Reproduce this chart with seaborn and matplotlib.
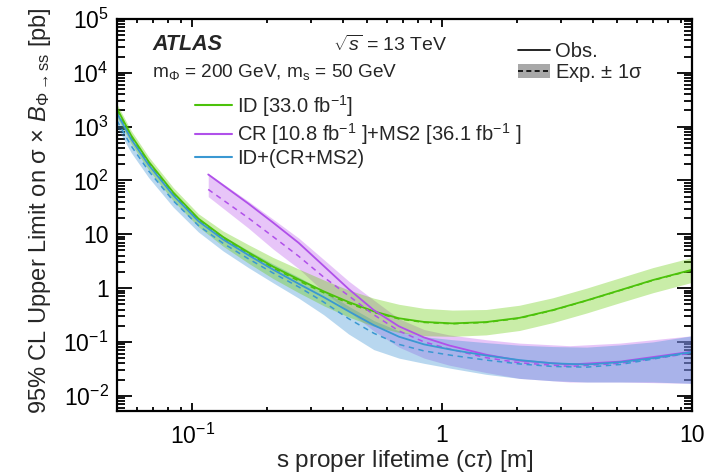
import numpy as np
import pandas as pd
import matplotlib
matplotlib.use("Agg")
import matplotlib.pyplot as plt
import seaborn as sns
from matplotlib.ticker import LogLocator, FuncFormatter, NullFormatter
from matplotlib.lines import Line2D
from matplotlib.patches import Patch

# ID search
ct_id = [0.05, 0.057, 0.067, 0.084, 0.106, 0.133, 0.168, 0.211, 0.267, 0.336, 0.423,
         0.533, 0.672, 0.847, 1.1, 1.5, 2.04, 2.77, 3.79, 5.14, 6.97, 10]
obs_id = [2190, 690, 224, 60, 19.5, 8.9, 4.6, 2.5, 1.45, 0.87, 0.55,
          0.37, 0.275, 0.235, 0.221, 0.234, 0.28, 0.39, 0.59, 0.91, 1.41, 2.19]
exp_id = [2000, 640, 208, 56, 18.2, 8.3, 4.3, 2.35, 1.36, 0.82, 0.52,
          0.355, 0.268, 0.23, 0.217, 0.23, 0.275, 0.385, 0.585, 0.9, 1.39, 2.15]
hi_id = [2640, 845, 275, 74, 24.0, 11.5, 6.4, 3.7, 2.26, 1.42, 0.92,
         0.65, 0.50, 0.42, 0.39, 0.40, 0.48, 0.66, 1.0, 1.55, 2.4, 3.7]
lo_id = [1515, 485, 158, 42, 13.8, 6.0, 2.9, 1.5, 0.82, 0.47, 0.29,
         0.195, 0.15, 0.13, 0.127, 0.135, 0.163, 0.228, 0.345, 0.535, 0.82, 1.28]

# CR + MS2 search
ct_cr = [0.116, 0.168, 0.211, 0.267, 0.336, 0.423, 0.533, 0.672, 0.847, 1.067,
         1.5, 2.04, 3.24, 5.14, 10]
obs_cr = [129, 37, 16.4, 6.9, 2.58, 0.96, 0.39, 0.195, 0.121, 0.086,
          0.058, 0.045, 0.038, 0.043, 0.066]
exp_cr = [68, 20, 9.0, 3.9, 1.6, 0.72, 0.32, 0.16, 0.10, 0.074,
          0.051, 0.041, 0.035, 0.040, 0.062]
hi_cr = [135, 41, 19, 8.5, 3.4, 1.35, 0.6, 0.27, 0.17, 0.135,
         0.11, 0.095, 0.085, 0.095, 0.13]
lo_cr = [50, 13, 5.3, 2.3, 0.85, 0.37, 0.16, 0.08, 0.05, 0.037,
         0.027, 0.021, 0.018, 0.018, 0.017]

# ID + (CR + MS2) combination
obs_comb = [1800, 590, 195, 53, 17.5, 8.0, 4.1, 2.2, 1.2, 0.68, 0.37,
            0.205, 0.125, 0.09, 0.071, 0.056, 0.046, 0.040, 0.038, 0.042, 0.050, 0.065]
exp_comb = [1300, 440, 150, 42, 14.5, 6.8, 3.5, 1.9, 1.05, 0.55, 0.27,
            0.145, 0.09, 0.068, 0.056, 0.046, 0.039, 0.035, 0.034, 0.038, 0.048, 0.064]
hi_comb = [1720, 580, 200, 56, 19.5, 9.3, 5.0, 2.8, 1.6, 0.9, 0.46,
           0.25, 0.16, 0.125, 0.11, 0.097, 0.087, 0.082, 0.08, 0.088, 0.1, 0.13]
lo_comb = [980, 330, 113, 32, 11, 4.9, 2.4, 1.25, 0.65, 0.32, 0.14,
           0.072, 0.05, 0.04, 0.032, 0.025, 0.021, 0.019, 0.018, 0.018, 0.018, 0.017]

green, green_band = "#4cc20a", "#65cc06"
purple, purple_band = "#b050ea", "#c570ee"
blue, blue_band = "#3a98d2", "#3f95d4"

sns.set_theme(style="ticks")
plt.rcParams["font.family"] = ["Liberation Sans", "DejaVu Sans"]
plt.rcParams["mathtext.fontset"] = "custom"
plt.rcParams["mathtext.rm"] = "Liberation Sans"
plt.rcParams["mathtext.it"] = "Liberation Sans:italic"
plt.rcParams["mathtext.bf"] = "Liberation Sans:bold"

df_id = pd.DataFrame({"ct": ct_id, "obs": obs_id, "exp": exp_id})
df_cr = pd.DataFrame({"ct": ct_cr, "obs": obs_cr, "exp": exp_cr})
df_comb = pd.DataFrame({"ct": ct_id, "obs": obs_comb, "exp": exp_comb})

fig = plt.figure(figsize=(7.04, 4.73), dpi=100)
ax = fig.add_axes([0.166, 0.131, 0.817, 0.829])

# +-1 sigma bands
ax.fill_between(ct_cr, lo_cr, hi_cr, color=purple_band, alpha=0.4, lw=0)
ax.fill_between(ct_id, lo_comb, hi_comb, color=blue_band, alpha=0.37, lw=0)
ax.fill_between(ct_id, lo_id, hi_id, color=green_band, alpha=0.35, lw=0)

for d, c in [(df_id, green), (df_cr, purple), (df_comb, blue)]:
    sns.lineplot(data=d, x="ct", y="exp", ax=ax, color=c, lw=1.1, linestyle=(0, (3.5, 3)))
    sns.lineplot(data=d, x="ct", y="obs", ax=ax, color=c, lw=1.3)

ax.set_xscale("log")
ax.set_yscale("log")
ax.set_xlim(0.05, 10)
ax.set_ylim(5.2e-3, 1e5)


def log_fmt(v, pos):
    e = int(round(np.log10(v)))
    if e == 0:
        return "1"
    if e == 1:
        return "10"
    return r"$10^{%d}$" % e


ax.xaxis.set_major_locator(LogLocator(base=10, numticks=10))
ax.yaxis.set_major_locator(LogLocator(base=10, numticks=20))
ax.xaxis.set_minor_locator(LogLocator(base=10, subs=np.arange(2, 10), numticks=20))
ax.yaxis.set_minor_locator(LogLocator(base=10, subs=np.arange(2, 10), numticks=20))
ax.xaxis.set_major_formatter(FuncFormatter(log_fmt))
ax.yaxis.set_major_formatter(FuncFormatter(log_fmt))
ax.xaxis.set_minor_formatter(NullFormatter())
ax.yaxis.set_minor_formatter(NullFormatter())

ax.tick_params(which="both", direction="in", top=True, right=True, width=1.3, colors="black",
               labelsize=16.5)
ax.tick_params(axis="x", which="major", length=6, pad=9)
ax.tick_params(axis="x", which="minor", length=3)
ax.tick_params(axis="y", which="major", length=11, pad=6)
ax.tick_params(axis="y", which="minor", length=6)
for s in ax.spines.values():
    s.set_linewidth(1.6)
    s.set_color("black")

ax.set_xlabel(r"s proper lifetime (c$\tau$) [m]", fontsize=17.5)
ax.set_ylabel(r"95% CL Upper Limit on σ × $\mathit{B}_{\Phi\rightarrow\mathrm{ss}}$ [pb]",
              fontsize=17)
ax.xaxis.set_label_coords(0.5, -0.128)
ax.yaxis.set_label_coords(-0.134, 0.51)
ax.xaxis.label.set_va("center")
ax.yaxis.label.set_va("center")

ax.text(0.061, 0.934, "ATLAS", transform=ax.transAxes, fontsize=15.5, fontweight="bold",
        fontstyle="italic", va="center")
ax.text(0.376, 0.934, r"$\sqrt{s}$ = 13 TeV", transform=ax.transAxes, fontsize=14, va="center")
ax.text(0.061, 0.865, r"m$_{\Phi}$ = 200 GeV, m$_{\rm s}$ = 50 GeV", transform=ax.transAxes,
        fontsize=13.7, va="center")

h1 = [Line2D([], [], color=green, lw=1.5), Line2D([], [], color=purple, lw=1.5),
      Line2D([], [], color=blue, lw=1.5)]
l1 = [r"ID [33.0 fb$^{-1}$]", r"CR [10.8 fb$^{-1}$ ]+MS2 [36.1 fb$^{-1}$ ]", "ID+(CR+MS2)"]
leg1 = ax.legend(h1, l1, loc="upper left", bbox_to_anchor=(0.135, 0.812), frameon=False,
                 fontsize=14.5, handlelength=1.85, handletextpad=0.25, labelspacing=0.12,
                 borderpad=0, borderaxespad=0)
ax.add_artist(leg1)

h2 = [Line2D([], [], color="black", lw=1.2),
      (Patch(facecolor="#a8a8a8", edgecolor="none"),
       Line2D([], [], color="black", lw=1.2, linestyle=(0, (3, 2))))]
ax.legend(h2, ["Obs.", r"Exp. $\pm$ 1σ"], loc="upper left", bbox_to_anchor=(0.697, 0.94),
          frameon=False, fontsize=14.5, handlelength=1.6, handletextpad=0.25,
          labelspacing=0.02, borderpad=0, borderaxespad=0)

fig.savefig("out.png", dpi=100)
